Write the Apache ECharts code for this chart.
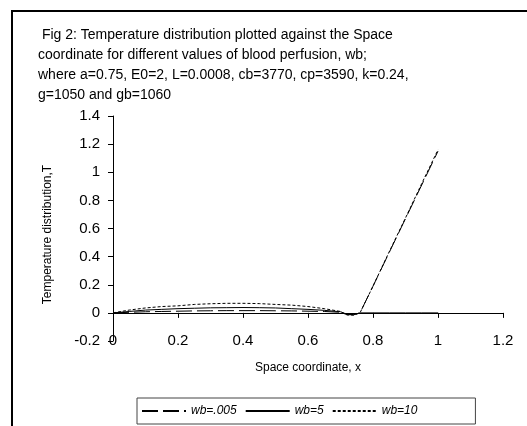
<!DOCTYPE html>
<html>
<head>
<meta charset="utf-8">
<script src="https://cdn.jsdelivr.net/npm/echarts@6/dist/echarts.min.js"></script>
<style>
  html, body { margin: 0; padding: 0; background: #fff; }
  #chart { width: 527px; height: 426px; }
</style>
</head>
<body>
<div id="chart"></div>
<script>
// Space coordinate values
let xs = [0, 0.05, 0.1, 0.15, 0.2, 0.25, 0.3, 0.35, 0.4, 0.45, 0.5, 0.55, 0.6, 0.65, 0.7, 0.72, 0.74, 0.76, 0.8, 0.85, 0.9, 0.95, 1.0];

// Temperature distribution for each perfusion value
let wbLow = [0, 0.004, 0.008, 0.01, 0.012, 0.014, 0.015, 0.016, 0.016, 0.016, 0.015, 0.014, 0.012, 0.01, 0.004, -0.012, -0.014, 0, 0.19, 0.43, 0.67, 0.91, 1.15];
let wbMid = [0, 0.01, 0.02, 0.025, 0.03, 0.033, 0.036, 0.037, 0.038, 0.037, 0.035, 0.03, 0.025, 0.018, 0.008, -0.01, -0.012, 0, 0, 0, 0, 0, 0];
let wbHigh = [0, 0.02, 0.035, 0.045, 0.05, 0.06, 0.065, 0.068, 0.068, 0.066, 0.06, 0.055, 0.045, 0.03, 0.01, -0.015, -0.016, 0, 0.19, 0.435, 0.675, 0.92, 1.16];

let seriesNames = ['wb=.005', 'wb=5', 'wb=10'];

let titleText = ' Fig 2: Temperature distribution plotted against the Space\n' +
  'coordinate for different values of blood perfusion, wb;\n' +
  'where a=0.75, E0=2, L=0.0008, cb=3770, cp=3590, k=0.24,\n' +
  'g=1050 and gb=1060';

function pairs(ys) {
  return xs.map(function (x, i) { return [x, ys[i]]; });
}

function fmt(v) {
  return String(parseFloat(v.toFixed(1)));
}

let font = '"Liberation Sans", Arial, sans-serif';

let chart = echarts.init(document.getElementById('chart'));
let option = {
  backgroundColor: '#fff',
  animation: false,
  title: {
    text: titleText,
    left: 33,
    top: 20,
    textStyle: {
      fontFamily: font,
      fontSize: 14,
      fontWeight: 'normal',
      color: '#000',
      lineHeight: 20
    }
  },
  graphic: [
    {
      type: 'polyline',
      shape: { points: [[12, 426], [12, 11], [527, 11]] },
      style: { stroke: '#000', lineWidth: 2, fill: null }
    }
  ],
  legend: {
    data: seriesNames,
    left: 137,
    top: 398,
    orient: 'horizontal',
    itemWidth: 44,
    itemHeight: 12,
    itemGap: 8,
    padding: [7, 58, 7, 4],
    borderColor: '#444',
    borderWidth: 1,
    itemStyle: { opacity: 0 },
    textStyle: {
      fontFamily: font,
      fontSize: 12,
      fontStyle: 'italic',
      color: '#000'
    }
  },
  grid: {
    left: 113,
    right: 24,
    top: 116,
    bottom: 85,
    containLabel: false
  },
  xAxis: {
    type: 'value',
    min: 0,
    max: 1.2,
    interval: 0.2,
    name: 'Space coordinate, x',
    nameLocation: 'middle',
    nameGap: 21,
    nameTextStyle: { fontFamily: font, fontSize: 12, color: '#000' },
    axisLine: { onZero: true, lineStyle: { color: '#000', width: 1 } },
    axisTick: { show: true, inside: false, length: 5, lineStyle: { color: '#000' } },
    axisLabel: {
      margin: -8,
      fontFamily: font,
      fontSize: 15,
      color: '#000',
      formatter: fmt
    },
    splitLine: { show: false }
  },
  yAxis: {
    type: 'value',
    min: -0.2,
    max: 1.4,
    interval: 0.2,
    name: 'Temperature distribution,T',
    nameLocation: 'middle',
    nameGap: 59,
    nameTextStyle: { fontFamily: font, fontSize: 12, color: '#000', padding: [0, 12, 0, 0] },
    axisLine: { show: true, onZero: false, lineStyle: { color: '#000', width: 1 } },
    axisTick: { show: true, inside: false, length: 5, lineStyle: { color: '#000' } },
    axisLabel: {
      margin: 13,
      fontFamily: font,
      fontSize: 15,
      color: '#000',
      formatter: fmt
    },
    splitLine: { show: false }
  },
  series: [
    {
      name: seriesNames[0],
      type: 'line',
      symbol: 'none',
      data: pairs(wbLow),
      lineStyle: { color: '#000', width: 1, type: [16, 5] },
      itemStyle: { color: '#000' }
    },
    {
      name: seriesNames[1],
      type: 'line',
      symbol: 'none',
      data: pairs(wbMid),
      lineStyle: { color: '#000', width: 1, type: 'solid' },
      itemStyle: { color: '#000' }
    },
    {
      name: seriesNames[2],
      type: 'line',
      symbol: 'none',
      data: pairs(wbHigh),
      lineStyle: { color: '#000', width: 1, type: [3, 2] },
      itemStyle: { color: '#000' }
    }
  ]
};
chart.setOption(option);
</script>
</body>
</html>
